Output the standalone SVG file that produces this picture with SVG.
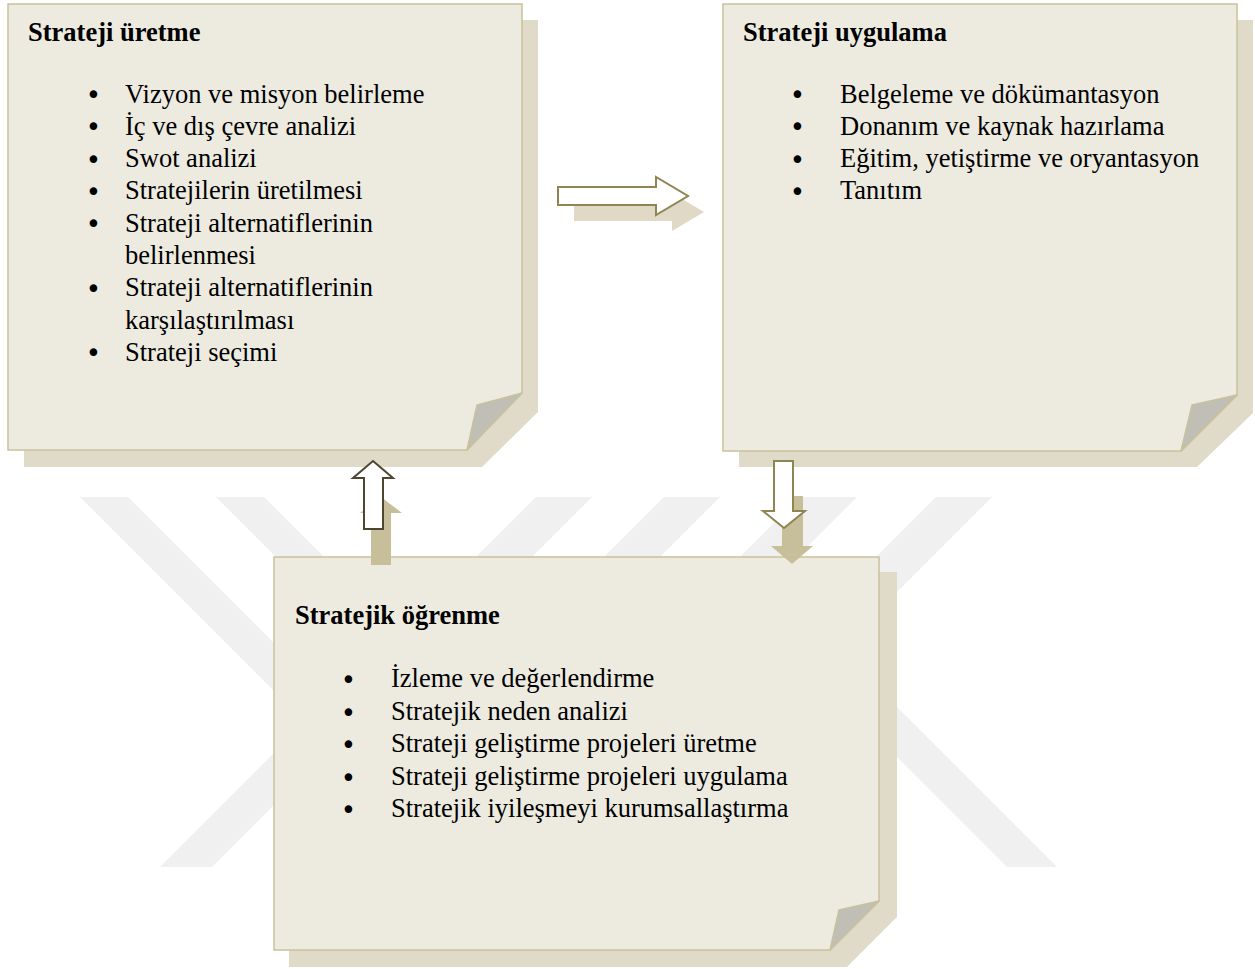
<svg xmlns="http://www.w3.org/2000/svg" width="1255" height="969" viewBox="0 0 1255 969">
<style>
.wm{fill:#f0f0f0}
.shadow{fill:#e0dbc9}
.front{fill:#edebe0;stroke:#c9c19b;stroke-width:1.5}
.fold{fill:#bfbfb5;stroke:#c9c19b;stroke-width:1.5;stroke-linejoin:round}
.title{font-family:"Liberation Serif","Times New Roman",serif;font-weight:bold;font-size:26.5px;fill:#000}
.item{font-family:"Liberation Serif","Times New Roman",serif;font-size:26.5px;fill:#000}
.bul{font-family:"DejaVu Sans",sans-serif;font-size:26px;fill:#000;text-anchor:middle}
.ashadow{fill:#dfd9c6}
.vshadow{fill:#c6bf99}
.aout{fill:#fff;stroke:#8f8552;stroke-width:2}
.aoutd{fill:#fff;stroke:#4d4732;stroke-width:2}
</style>
<rect width="1255" height="969" fill="#fff"/>
<g id="watermark">
<polygon class="wm" points="80,497 128,497 391,760 343,760"/>
<polygon class="wm" points="216,497 264,497 400,633 352,633"/>
<polygon class="wm" points="160,867 212,867 462,617 410,617"/>
<polygon class="wm" points="536,497 592,497 452,637 396,637"/>
<polygon class="wm" points="664,497 720,497 580,637 524,637"/>
<polygon class="wm" points="800,497 857,497 717,637 660,637"/>
<polygon class="wm" points="936,497 992,497 830,659 774,659"/>
<polygon class="wm" points="1007,867 1057,867 840,650 790,650"/>
</g>
<g id="node-uretme">
<polygon class="shadow" points="24,20 538,20 538,412 482,467 24,467"/>
<polygon class="front" points="8,4 522,4 522,393 467,450 8,450"/>
<polygon class="fold" points="522,393 477,405 467,450"/>
<text class="title" x="28" y="41">Strateji üretme</text>
<g class="bul">
<text x="93.5" y="104">•</text><text x="93.5" y="136.3">•</text><text x="93.5" y="168.6">•</text><text x="93.5" y="200.9">•</text><text x="93.5" y="233.2">•</text><text x="93.5" y="297.8">•</text><text x="93.5" y="362.4">•</text>
</g>
<g class="item">
<text x="125" y="102.5">Vizyon ve misyon belirleme</text>
<text x="125" y="134.8">İç ve dış çevre analizi</text>
<text x="125" y="167.1">Swot analizi</text>
<text x="125" y="199.4">Stratejilerin üretilmesi</text>
<text x="125" y="231.7">Strateji alternatiflerinin</text>
<text x="125" y="264">belirlenmesi</text>
<text x="125" y="296.3">Strateji alternatiflerinin</text>
<text x="125" y="328.6">karşılaştırılması</text>
<text x="125" y="360.9">Strateji seçimi</text>
</g>
</g>
<g id="node-uygulama">
<polygon class="shadow" points="739,20 1253,20 1253,413 1197,467 739,467"/>
<polygon class="front" points="723,4 1237,4 1237,395 1181,451 723,451"/>
<polygon class="fold" points="1237,395 1192,405 1181,451"/>
<text class="title" x="743" y="41">Strateji uygulama</text>
<g class="bul">
<text x="797.5" y="104">•</text><text x="797.5" y="136.3">•</text><text x="797.5" y="168.6">•</text><text x="797.5" y="200.9">•</text>
</g>
<g class="item">
<text x="840" y="102.5">Belgeleme ve dökümantasyon</text>
<text x="840" y="134.8">Donanım ve kaynak hazırlama</text>
<text x="840" y="167.1">Eğitim, yetiştirme ve oryantasyon</text>
<text x="840" y="199.4">Tanıtım</text>
</g>
</g>
<g id="node-ogrenme">
<polygon class="shadow" points="289,572 897,572 897,917 847,967 289,967"/>
<polygon class="front" points="274,557 879,557 879,901 830,950 274,950"/>
<polygon class="fold" points="879,901 839,910 830,950"/>
<text class="title" x="295" y="624">Stratejik öğrenme</text>
<g class="bul">
<text x="348.5" y="688.5">•</text><text x="348.5" y="721.5">•</text><text x="348.5" y="753.5">•</text><text x="348.5" y="786.5">•</text><text x="348.5" y="818.5">•</text>
</g>
<g class="item">
<text x="391" y="687">İzleme ve değerlendirme</text>
<text x="391" y="720">Stratejik neden analizi</text>
<text x="391" y="752">Strateji geliştirme projeleri üretme</text>
<text x="391" y="785">Strateji geliştirme projeleri uygulama</text>
<text x="391" y="817">Stratejik iyileşmeyi kurumsallaştırma</text>
</g>
</g>
<g id="connectors">
<polygon class="ashadow" points="574,203 672,203 672,193 704,212 672,231 672,221 574,221"/>
<polygon class="aout" points="558,187 656,187 656,177 688,196 656,215 656,205 558,205"/>
<polygon class="vshadow" points="381,497 402,513 391,513 391,565 371,565 371,513 360,513"/>
<polygon class="aoutd" points="373,461 393,478 383,478 383,529 364,529 364,478 353,478"/>
<polygon class="vshadow" points="782,496 803,496 803,546 813,546 792,564 771,546 782,546"/>
<polygon class="aout" points="774,461 793,461 793,511 805,511 784,528 763,511 774,511"/>
</g>
</svg>
